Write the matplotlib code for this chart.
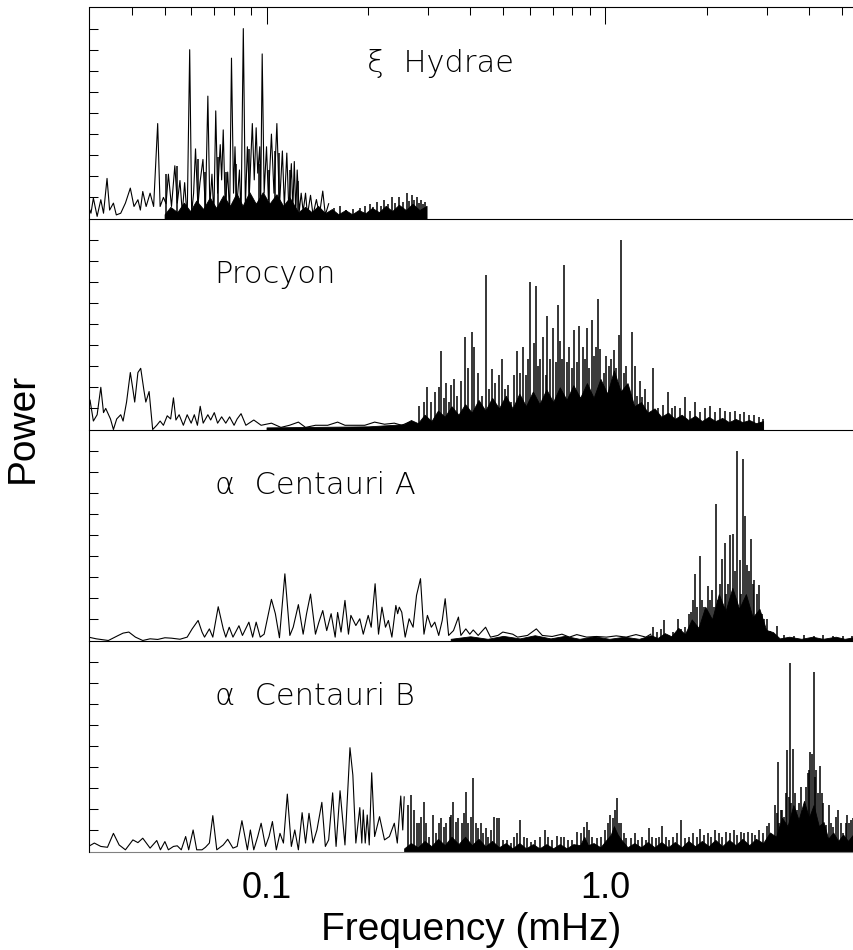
import numpy as np
import matplotlib.pyplot as plt
from matplotlib.ticker import FixedLocator, NullFormatter, NullLocator

# ── Data (frequency in mHz, power as fraction of panel) ──

stars = ["\u03be  Hydrae", "Procyon", "\u03b1  Centauri A", "\u03b1  Centauri B"]

# xi Hydrae: traced low-frequency curve
hya_f = [0.0298, 0.0303, 0.0308, 0.0316, 0.0324, 0.0330, 0.0338, 0.0344, 0.0353, 0.0360,
         0.0371, 0.0383, 0.0396, 0.0406, 0.0417, 0.0424, 0.0431, 0.0441, 0.0453, 0.0464,
         0.0477, 0.0485, 0.0496, 0.0505, 0.0513, 0.0524, 0.0536, 0.0545, 0.0555, 0.0564,
         0.0573, 0.0583, 0.0593, 0.0601, 0.0609, 0.0617, 0.0627, 0.0636, 0.0649, 0.0660,
         0.0671, 0.0680, 0.0690, 0.0699, 0.0708, 0.0717, 0.0730, 0.0737, 0.0745, 0.0755,
         0.0768, 0.0778, 0.0788, 0.0799, 0.0807, 0.0817, 0.0832, 0.0841, 0.0854, 0.0866,
         0.0878, 0.0890, 0.0908, 0.0920, 0.0932, 0.0942, 0.0955, 0.0961, 0.0971, 0.0984,
         0.1000, 0.1013, 0.1034, 0.1052, 0.1073, 0.1092, 0.1114, 0.1129, 0.1148, 0.1164,
         0.1184, 0.1196, 0.1208, 0.1220, 0.1232, 0.1249, 0.1266, 0.1283, 0.1304, 0.1321,
         0.1349, 0.1372, 0.1404, 0.1433, 0.1466, 0.1492, 0.1526]
hya_p = [0.057, 0.025, 0.097, 0.010, 0.089, 0.025, 0.190, 0.040, 0.073, 0.017,
         0.025, 0.073, 0.144, 0.057, 0.089, 0.040, 0.128, 0.057, 0.120, 0.057,
         0.450, 0.057, 0.100, 0.070, 0.210, 0.057, 0.250, 0.073, 0.180, 0.025,
         0.170, 0.000, 0.800, 0.025, 0.120, 0.330, 0.060, 0.170, 0.280, 0.040,
         0.580, 0.057, 0.210, 0.010, 0.510, 0.120, 0.350, 0.183, 0.420, 0.057,
         0.220, 0.010, 0.760, 0.120, 0.340, 0.057, 0.230, 0.000, 0.900, 0.057,
         0.340, 0.120, 0.450, 0.183, 0.430, 0.215, 0.340, 0.057, 0.780, 0.120,
         0.340, 0.089, 0.400, 0.120, 0.450, 0.057, 0.320, 0.057, 0.310, 0.040,
         0.260, 0.040, 0.270, 0.025, 0.230, 0.033, 0.120, 0.033, 0.120, 0.017,
         0.110, 0.017, 0.090, 0.017, 0.130, 0.017, 0.070]
hya_spike_f = [0.0505, 0.0545, 0.0628, 0.0660, 0.0720, 0.0760, 0.0815, 0.0890, 0.0950, 0.1015,
               0.1060, 0.1090, 0.1170, 0.1240,
               0.1580, 0.1649, 0.1720, 0.1800, 0.1886, 0.1950, 0.2017, 0.2070, 0.2121, 0.2180,
               0.2231, 0.2290, 0.2346, 0.2400, 0.2467, 0.2530, 0.2594, 0.2640, 0.2683, 0.2730,
               0.2774, 0.2820, 0.2869, 0.2900, 0.2937]
hya_spike_p = [0.210, 0.250, 0.280, 0.220, 0.290, 0.220, 0.260, 0.330, 0.260, 0.230,
               0.320, 0.310, 0.230, 0.180,
               0.050, 0.057, 0.040, 0.045, 0.050, 0.060, 0.070, 0.055, 0.080, 0.060,
               0.090, 0.070, 0.100, 0.075, 0.100, 0.080, 0.120, 0.085, 0.110, 0.090,
               0.100, 0.075, 0.090, 0.070, 0.080]
hya_floor_f = [0.0500, 0.0520, 0.0545, 0.0570, 0.0595, 0.0620, 0.0650, 0.0680, 0.0710, 0.0745,
               0.0780, 0.0815, 0.0850, 0.0890, 0.0930, 0.0975, 0.1020, 0.1070, 0.1120, 0.1170,
               0.1220, 0.124, 0.130, 0.136, 0.142, 0.149, 0.156, 0.163, 0.171, 0.179,
               0.187, 0.196, 0.205, 0.215, 0.225, 0.235, 0.246, 0.258, 0.270, 0.283, 0.297]
hya_floor_p = [0.020, 0.055, 0.030, 0.075, 0.035, 0.085, 0.045, 0.100, 0.050, 0.110,
               0.060, 0.120, 0.060, 0.125, 0.070, 0.125, 0.070, 0.115, 0.060, 0.100,
               0.050, 0.030, 0.055, 0.030, 0.060, 0.025, 0.045, 0.020, 0.040, 0.020,
               0.040, 0.025, 0.050, 0.030, 0.060, 0.035, 0.065, 0.040, 0.070, 0.040, 0.060]

# Procyon
pro_f = [0.0298, 0.0301, 0.0308, 0.0316, 0.0324, 0.0330, 0.0335, 0.0346, 0.0353, 0.0361,
         0.0371, 0.0377, 0.0386, 0.0396, 0.0403, 0.0408, 0.0417, 0.0425, 0.0434, 0.0440,
         0.0450, 0.0461, 0.0474, 0.0485, 0.0496, 0.0509, 0.0521, 0.0531, 0.0540, 0.0552,
         0.0568, 0.0583, 0.0599, 0.0612, 0.0625, 0.0637, 0.0650, 0.0671, 0.0684, 0.0701,
         0.0717, 0.0737, 0.0758, 0.0778, 0.0802, 0.0819, 0.0841, 0.0869, 0.0917, 0.0964,
         0.1034, 0.1103, 0.1169, 0.1242, 0.1304, 0.1395, 0.1516, 0.1622, 0.1705, 0.1812,
         0.1951, 0.2086, 0.2231, 0.2385, 0.2509, 0.2638]
pro_p = [0.140, 0.140, 0.040, 0.070, 0.200, 0.080, 0.100, 0.050, 0.000, 0.050,
         0.070, 0.040, 0.130, 0.270, 0.190, 0.130, 0.270, 0.290, 0.190, 0.130,
         0.180, 0.000, 0.020, 0.040, 0.020, 0.065, 0.050, 0.150, 0.045, 0.070,
         0.020, 0.070, 0.030, 0.070, 0.020, 0.110, 0.030, 0.070, 0.045, 0.080,
         0.030, 0.060, 0.030, 0.060, 0.020, 0.050, 0.075, 0.020, 0.045, 0.020,
         0.030, 0.010, 0.020, 0.035, 0.010, 0.020, 0.020, 0.035, 0.020, 0.020,
         0.020, 0.035, 0.025, 0.030, 0.020, 0.035]
pro_spike_f = [0.2821, 0.2918, 0.2987, 0.3068, 0.3141, 0.3226, 0.3281, 0.3337, 0.3393, 0.3451,
               0.3509, 0.3591, 0.3664, 0.3751, 0.3853, 0.3945, 0.4052, 0.4107, 0.4219, 0.4319,
               0.4437, 0.4543, 0.4635, 0.4745, 0.4874, 0.4956, 0.5073, 0.5159, 0.5287, 0.5372,
               0.5481, 0.5593, 0.5706, 0.5822, 0.5940, 0.6020, 0.6163, 0.6246, 0.6330, 0.6416,
               0.6570, 0.6670, 0.6748, 0.6885, 0.7024, 0.7143, 0.7264, 0.7337, 0.7461, 0.7587,
               0.7716, 0.7846, 0.7980, 0.8114, 0.8251, 0.8390, 0.8590, 0.8706, 0.8824, 0.8973,
               0.9125, 0.9279, 0.9373, 0.9532, 0.9692, 0.9922, 1.0090, 1.0294, 1.0434, 1.0611,
               1.0790, 1.0973, 1.1159, 1.1348, 1.1540, 1.1775, 1.2014, 1.2257, 1.2465, 1.2679,
               1.2893, 1.3109, 1.3421, 1.3881, 1.4354, 1.4844, 1.5351, 1.5768, 1.6140, 1.6690,
               1.7260, 1.7849, 1.8459, 1.9090, 1.9741, 2.0415, 2.1112, 2.1833, 2.2570, 2.3340,
               2.4136, 2.4960, 2.5813, 2.6690, 2.7600, 2.8542, 2.9324]
pro_spike_p = [0.110, 0.130, 0.200, 0.130, 0.180, 0.200, 0.370, 0.150, 0.220, 0.130,
               0.210, 0.240, 0.160, 0.230, 0.440, 0.290, 0.460, 0.390, 0.270, 0.160,
               0.730, 0.190, 0.285, 0.220, 0.260, 0.335, 0.190, 0.210, 0.130, 0.260,
               0.370, 0.270, 0.390, 0.260, 0.335, 0.700, 0.410, 0.680, 0.300, 0.335,
               0.440, 0.260, 0.540, 0.335, 0.480, 0.320, 0.590, 0.420, 0.335, 0.780,
               0.320, 0.390, 0.290, 0.470, 0.320, 0.490, 0.390, 0.335, 0.480, 0.290,
               0.520, 0.350, 0.390, 0.620, 0.380, 0.270, 0.350, 0.300, 0.335, 0.375,
               0.290, 0.450, 0.900, 0.270, 0.300, 0.190, 0.460, 0.300, 0.160, 0.230,
               0.155, 0.190, 0.130, 0.290, 0.100, 0.115, 0.180, 0.100, 0.110, 0.100,
               0.155, 0.090, 0.130, 0.085, 0.100, 0.110, 0.085, 0.100, 0.090, 0.085,
               0.090, 0.075, 0.085, 0.070, 0.070, 0.060, 0.050]
pro_floor_f = [0.100, 0.200, 0.255, 0.267, 0.280, 0.293, 0.307, 0.321, 0.336, 0.352,
               0.369, 0.386, 0.404, 0.423, 0.443, 0.464, 0.486, 0.509, 0.533, 0.558,
               0.584, 0.612, 0.640, 0.671, 0.702, 0.735, 0.770, 0.806, 0.844, 0.884,
               0.925, 0.969, 1.015, 1.062, 1.112, 1.165, 1.220, 1.277, 1.337, 1.400,
               1.466, 1.535, 1.607, 1.683, 1.762, 1.845, 1.932, 2.023, 2.118, 2.218,
               2.322, 2.431, 2.546, 2.666, 2.791, 2.930]
pro_floor_p = [0.010, 0.015, 0.025, 0.045, 0.030, 0.070, 0.040, 0.090, 0.060, 0.110,
               0.070, 0.120, 0.080, 0.140, 0.090, 0.150, 0.100, 0.160, 0.100, 0.170,
               0.110, 0.180, 0.120, 0.190, 0.130, 0.200, 0.140, 0.210, 0.150, 0.220,
               0.150, 0.240, 0.170, 0.280, 0.180, 0.220, 0.110, 0.130, 0.080, 0.100,
               0.060, 0.080, 0.050, 0.070, 0.045, 0.065, 0.040, 0.060, 0.040, 0.055,
               0.035, 0.050, 0.035, 0.045, 0.030, 0.040]

# alpha Centauri A
cena_f = [0.0298, 0.0314, 0.0341, 0.0365, 0.0377, 0.0392, 0.0410, 0.0431, 0.0453, 0.0477,
          0.0501, 0.0524, 0.0555, 0.0583, 0.0603, 0.0628, 0.0645, 0.0656, 0.0678, 0.0694,
          0.0720, 0.0745, 0.0758, 0.0776, 0.0796, 0.0829, 0.0849, 0.0887, 0.0910, 0.0932,
          0.0958, 0.0984, 0.1034, 0.1062, 0.1092, 0.1133, 0.1172, 0.1199, 0.1242, 0.1283,
          0.1313, 0.1349, 0.1395, 0.1428, 0.1466, 0.1506, 0.1552, 0.1595, 0.1622, 0.1660,
          0.1705, 0.1746, 0.1775, 0.1836, 0.1886, 0.1931, 0.1997, 0.2038, 0.2093, 0.2142,
          0.2193, 0.2246, 0.2291, 0.2346, 0.2410, 0.2440, 0.2467, 0.2509, 0.2568, 0.2638,
          0.2710, 0.2774, 0.2850, 0.2918, 0.2987, 0.3068, 0.3141, 0.3226, 0.3304, 0.3371,
          0.3451, 0.3567, 0.3689, 0.3751, 0.3879, 0.3985, 0.4080, 0.4219, 0.4437, 0.4588,
          0.4825, 0.4989, 0.5335, 0.5514, 0.5900, 0.6267, 0.6525, 0.6977, 0.7461, 0.7846,
          0.8251, 0.8824, 0.9437, 1.0090, 1.0790, 1.1540, 1.2341, 1.3198, 1.3650]
cena_p = [0.016, 0.008, 0.000, 0.024, 0.035, 0.040, 0.016, 0.000, 0.008, 0.005,
          0.013, 0.011, 0.006, 0.016, 0.055, 0.095, 0.040, 0.016, 0.055, 0.016,
          0.160, 0.055, 0.016, 0.063, 0.016, 0.070, 0.024, 0.087, 0.016, 0.087,
          0.016, 0.030, 0.195, 0.127, 0.013, 0.316, 0.024, 0.063, 0.170, 0.030,
          0.127, 0.220, 0.030, 0.087, 0.142, 0.047, 0.127, 0.016, 0.133, 0.040,
          0.190, 0.030, 0.119, 0.071, 0.103, 0.030, 0.119, 0.063, 0.269, 0.030,
          0.158, 0.063, 0.095, 0.016, 0.166, 0.127, 0.158, 0.134, 0.016, 0.103,
          0.063, 0.214, 0.293, 0.030, 0.119, 0.063, 0.087, 0.024, 0.095, 0.198,
          0.024, 0.047, 0.111, 0.024, 0.055, 0.030, 0.050, 0.024, 0.063, 0.016,
          0.024, 0.040, 0.030, 0.016, 0.024, 0.055, 0.024, 0.019, 0.030, 0.016,
          0.028, 0.016, 0.019, 0.016, 0.022, 0.016, 0.028, 0.016, 0.030]
cena_spike_f = [1.3881, 1.4211, 1.4597, 1.4947, 1.5351, 1.5875, 1.6413, 1.6803, 1.7260, 1.7733,
                1.7972, 1.8213, 1.8459, 1.8713, 1.9090, 1.9347, 1.9609, 2.0075, 2.0415, 2.0760,
                2.1040, 2.1327, 2.1614, 2.1833, 2.2201, 2.2570, 2.2799, 2.3107, 2.3340, 2.3814,
                2.4136, 2.4545, 2.4960, 2.5216, 2.5470, 2.5899, 2.6337, 2.6690, 2.6960, 2.7326,
                2.7600, 2.8067, 2.8542, 2.9025, 2.9516, 3.0016, 3.0728, 3.1348, 3.2094, 3.3750,
                3.6095, 3.8603, 4.1283, 4.4140, 4.7203, 5.0483, 5.3620]
cena_spike_p = [0.063, 0.040, 0.055, 0.095, 0.024, 0.040, 0.103, 0.055, 0.063, 0.127,
                0.134, 0.190, 0.316, 0.158, 0.400, 0.190, 0.158, 0.260, 0.190, 0.237,
                0.158, 0.646, 0.190, 0.270, 0.388, 0.460, 0.220, 0.270, 0.500, 0.506,
                0.330, 0.900, 0.380, 0.220, 0.862, 0.589, 0.356, 0.330, 0.483, 0.270,
                0.285, 0.220, 0.261, 0.127, 0.103, 0.103, 0.047, 0.030, 0.071, 0.024,
                0.019, 0.024, 0.019, 0.024, 0.019, 0.022, 0.019]
cena_floor_f = [0.350, 0.400, 0.450, 0.500, 0.560, 0.620, 0.690, 0.760, 0.840, 0.930,
                1.030, 1.140, 1.260, 1.365, 1.430, 1.500, 1.570, 1.645, 1.722, 1.803,
                1.888, 1.977, 2.070, 2.168, 2.270, 2.377, 2.489, 2.606, 2.729, 2.857,
                2.992, 3.133, 3.280, 3.500, 3.800, 4.100, 4.400, 4.800, 5.100, 5.400]
cena_floor_p = [0.008, 0.020, 0.008, 0.022, 0.010, 0.025, 0.010, 0.022, 0.008, 0.020,
                0.008, 0.018, 0.008, 0.025, 0.012, 0.035, 0.020, 0.060, 0.030, 0.100,
                0.060, 0.160, 0.100, 0.220, 0.140, 0.250, 0.150, 0.220, 0.110, 0.150,
                0.050, 0.040, 0.010, 0.018, 0.008, 0.018, 0.008, 0.018, 0.008, 0.015]

# alpha Centauri B
cenb_f = [0.0298, 0.0310, 0.0324, 0.0339, 0.0353, 0.0367, 0.0383, 0.0403, 0.0417, 0.0431,
          0.0453, 0.0474, 0.0486, 0.0501, 0.0513, 0.0531, 0.0545, 0.0560, 0.0577, 0.0589,
          0.0607, 0.0622, 0.0645, 0.0660, 0.0678, 0.0694, 0.0713, 0.0745, 0.0768, 0.0796,
          0.0819, 0.0846, 0.0878, 0.0896, 0.0917, 0.0942, 0.0964, 0.0993, 0.1017, 0.1041,
          0.1069, 0.1096, 0.1122, 0.1152, 0.1184, 0.1212, 0.1242, 0.1274, 0.1304, 0.1335,
          0.1372, 0.1409, 0.1457, 0.1492, 0.1526, 0.1568, 0.1605, 0.1649, 0.1705, 0.1764,
          0.1799, 0.1836, 0.1886, 0.1912, 0.1931, 0.1957, 0.1984, 0.2011, 0.2045, 0.2086,
          0.2157, 0.2231, 0.2307, 0.2385, 0.2434, 0.2492, 0.2526, 0.2551]
cenb_p = [0.024, 0.040, 0.024, 0.020, 0.086, 0.031, 0.008, 0.055, 0.042, 0.063,
          0.016, 0.052, 0.008, 0.047, 0.008, 0.024, 0.027, 0.008, 0.071, 0.008,
          0.102, 0.008, 0.008, 0.020, 0.040, 0.170, 0.008, 0.031, 0.058, 0.016,
          0.024, 0.146, 0.008, 0.102, 0.008, 0.071, 0.134, 0.024, 0.071, 0.142,
          0.008, 0.086, 0.040, 0.272, 0.024, 0.102, 0.008, 0.184, 0.040, 0.181,
          0.040, 0.102, 0.233, 0.024, 0.055, 0.278, 0.024, 0.288, 0.031, 0.492,
          0.362, 0.040, 0.208, 0.040, 0.197, 0.040, 0.173, 0.031, 0.373, 0.071,
          0.165, 0.055, 0.071, 0.134, 0.040, 0.263, 0.102, 0.259]
cenb_spike_f = [0.2612, 0.2665, 0.2728, 0.2774, 0.2821, 0.2869, 0.2918, 0.2967, 0.3017, 0.3099,
                0.3173, 0.3226, 0.3281, 0.3337, 0.3393, 0.3473, 0.3509, 0.3567, 0.3627, 0.3689,
                0.3776, 0.3829, 0.3879, 0.3945, 0.4025, 0.4080, 0.4149, 0.4219, 0.4290, 0.4363,
                0.4437, 0.4512, 0.4604, 0.4698, 0.4794, 0.4874, 0.4989, 0.5125, 0.5287, 0.5372,
                0.5481, 0.5611, 0.5748, 0.5900, 0.6061, 0.6204, 0.6416, 0.6635, 0.6789, 0.6977,
                0.7215, 0.7410, 0.7587, 0.7793, 0.7980, 0.8251, 0.8475, 0.8677, 0.8824, 0.8973,
                0.9125, 0.9437, 0.9757, 1.0022, 1.0192, 1.0364, 1.0539, 1.0684, 1.0864, 1.1014,
                1.1159, 1.1348, 1.1540, 1.1934, 1.2257, 1.2549, 1.2893, 1.3198, 1.3511, 1.3788,
                1.4116, 1.4476, 1.4746, 1.5096, 1.5452, 1.5875, 1.6303, 1.6803, 1.7260, 1.7733,
                1.8149, 1.8645, 1.9090, 1.9609, 2.0075, 2.0554, 2.1112, 2.1686, 2.2201, 2.2721,
                2.3340, 2.3974, 2.4545, 2.5132, 2.5813, 2.6511, 2.7141, 2.7787, 2.8542, 2.9324,
                3.0016, 3.0530, 3.1039, 3.1771, 3.2094, 3.2418, 3.2748, 3.3078, 3.3412, 3.3750,
                3.4204, 3.4558, 3.4906, 3.5142, 3.5495, 3.5852, 3.6214, 3.6458, 3.6826, 3.7330,
                3.7961, 3.8474, 3.8864, 3.9256, 3.9652, 4.0051, 4.0328, 4.0876, 4.1283, 4.1700,
                4.2121, 4.2689, 4.3124, 4.3709, 4.4140, 4.5036, 4.5954, 4.6577, 4.7203, 4.8171,
                4.8814, 4.9639, 5.0483, 5.1340, 5.1850, 5.2550, 5.3260, 5.3978]
cenb_spike_p = [0.220, 0.266, 0.197, 0.134, 0.134, 0.165, 0.233, 0.134, 0.071, 0.173,
                0.086, 0.134, 0.157, 0.118, 0.134, 0.165, 0.173, 0.236, 0.142, 0.157,
                0.134, 0.181, 0.283, 0.134, 0.165, 0.346, 0.134, 0.110, 0.134, 0.086,
                0.110, 0.071, 0.102, 0.165, 0.157, 0.157, 0.055, 0.055, 0.040, 0.071,
                0.086, 0.149, 0.071, 0.063, 0.047, 0.055, 0.071, 0.102, 0.071, 0.055,
                0.074, 0.071, 0.071, 0.055, 0.055, 0.094, 0.086, 0.118, 0.142, 0.102,
                0.071, 0.063, 0.071, 0.102, 0.134, 0.173, 0.157, 0.197, 0.255, 0.134,
                0.134, 0.086, 0.063, 0.063, 0.086, 0.055, 0.071, 0.055, 0.110, 0.071,
                0.063, 0.071, 0.121, 0.071, 0.055, 0.071, 0.086, 0.149, 0.063, 0.071,
                0.086, 0.071, 0.105, 0.079, 0.086, 0.071, 0.102, 0.086, 0.071, 0.094,
                0.086, 0.102, 0.079, 0.094, 0.086, 0.094, 0.086, 0.079, 0.102, 0.086,
                0.121, 0.134, 0.071, 0.220, 0.181, 0.425, 0.134, 0.197, 0.197, 0.165,
                0.275, 0.480, 0.260, 0.893, 0.228, 0.487, 0.197, 0.275, 0.197, 0.228,
                0.307, 0.197, 0.142, 0.307, 0.370, 0.385, 0.472, 0.464, 0.849, 0.354,
                0.385, 0.275, 0.406, 0.275, 0.228, 0.126, 0.220, 0.134, 0.118, 0.165,
                0.197, 0.134, 0.086, 0.134, 0.173, 0.134, 0.149, 0.157]
cenb_floor_f = [0.255, 0.267, 0.280, 0.293, 0.307, 0.321, 0.336, 0.352, 0.369, 0.386,
                0.404, 0.423, 0.443, 0.464, 0.486, 0.509, 0.533, 0.558, 0.584, 0.612,
                0.640, 0.671, 0.702, 0.735, 0.770, 0.806, 0.844, 0.868, 0.890, 0.925,
                0.969, 1.015, 1.040, 1.062, 1.090, 1.112, 1.165, 1.220, 1.277, 1.337,
                1.400, 1.466, 1.535, 1.607, 1.683, 1.762, 1.845, 1.932, 2.023, 2.118,
                2.218, 2.322, 2.431, 2.546, 2.666, 2.791, 2.930, 3.070, 3.200, 3.330,
                3.460, 3.600, 3.730, 3.870, 4.000, 4.130, 4.280, 4.420, 4.560, 4.720,
                4.880, 5.050, 5.220, 5.400]
cenb_floor_p = [0.015, 0.040, 0.020, 0.050, 0.025, 0.060, 0.030, 0.070, 0.035, 0.070,
                0.030, 0.060, 0.025, 0.050, 0.020, 0.040, 0.015, 0.040, 0.015, 0.035,
                0.015, 0.035, 0.015, 0.035, 0.015, 0.035, 0.030, 0.070, 0.030, 0.040,
                0.020, 0.060, 0.080, 0.120, 0.080, 0.060, 0.020, 0.040, 0.020, 0.045,
                0.020, 0.045, 0.020, 0.045, 0.020, 0.050, 0.025, 0.050, 0.025, 0.055,
                0.025, 0.055, 0.030, 0.060, 0.030, 0.060, 0.040, 0.090, 0.070, 0.160,
                0.120, 0.220, 0.150, 0.240, 0.160, 0.220, 0.120, 0.140, 0.060, 0.090,
                0.050, 0.080, 0.050, 0.080]

panels = [
    (hya_f, hya_p, hya_spike_f, hya_spike_p, hya_floor_f, hya_floor_p),
    (pro_f, pro_p, pro_spike_f, pro_spike_p, pro_floor_f, pro_floor_p),
    (cena_f, cena_p, cena_spike_f, cena_spike_p, cena_floor_f, cena_floor_p),
    (cenb_f, cenb_p, cenb_spike_f, cenb_spike_p, cenb_floor_f, cenb_floor_p),
]
label_x = [0.364, 0.164, 0.164, 0.164]

# ── Layout (pixel geometry of the 854x950 reference) ──────────────────────────
W, H = 854, 950
left, right = 89.5, 853
top, ph = 7.5, 211

fig = plt.figure(figsize=(W / 100, H / 100), dpi=100)

axes = []
for i, (lf, lp, sf, sp, ff, fp) in enumerate(panels):
    y0 = top + ph * (i + 1)
    ax = fig.add_axes([left / W, 1 - y0 / H, (right - left) / W, ph / H])
    ax.set_facecolor("none")
    axes.append(ax)

    ax.fill_between(ff, 0, fp, color="black", linewidth=0.6)
    ax.plot(lf, lp, color="black", linewidth=0.8)
    ax.vlines(sf, 0, sp, color="black", linewidth=1.1)

    ax.set_xscale("log")
    ax.set_xlim(0.03, 5.4)
    ax.set_ylim(0, 1)

    ax.spines[["right"]].set_visible(False)
    if i > 0:
        ax.spines["top"].set_visible(False)
    for s in ax.spines.values():
        s.set_linewidth(0.8)
        s.set_color("black")
        s.set_zorder(5)

    ax.yaxis.set_major_locator(FixedLocator(np.arange(0.1, 0.95, 0.1)))
    ax.yaxis.set_minor_locator(NullLocator())
    ax.tick_params(axis="y", which="major", direction="in", length=6.5,
                   width=0.75, labelleft=False)

    ax.xaxis.set_major_locator(FixedLocator([0.1, 1.0]))
    ax.xaxis.set_minor_locator(FixedLocator(
        [0.04, 0.05, 0.06, 0.07, 0.08, 0.09, 0.2, 0.3, 0.4, 0.5, 0.6, 0.7, 0.8, 0.9,
         2, 3, 4, 5]))
    ax.xaxis.set_minor_formatter(NullFormatter())
    ax.tick_params(axis="x", which="both", bottom=False, top=(i == 0),
                   labelbottom=(i == 3), direction="in", width=0.75)
    ax.tick_params(axis="x", which="major", length=12.5)
    ax.tick_params(axis="x", which="minor", length=6)

    ax.text(label_x[i], 0.695, stars[i], transform=ax.transAxes,
            fontsize=22, fontweight="light", family=["DejaVu Sans"],
            ha="left", va="baseline")

bax = axes[-1]
bax.set_xticklabels(["0.1", "1.0"])
bax.tick_params(axis="x", which="major", labelsize=26, pad=14)
for lab in bax.get_xticklabels():
    lab.set_family(["Liberation Sans", "DejaVu Sans"])
bax.spines["bottom"].set_color("#808080")
bax.set_xlabel("Frequency (mHz)", fontsize=28, family=["Liberation Sans", "DejaVu Sans"],
               va="top")
bax.xaxis.set_label_coords(0.5, -60 / ph)

fig.text(23 / W, 1 - 428 / H, "Power", rotation=90, fontsize=28,
         family=["Liberation Sans", "DejaVu Sans"], ha="center", va="center")

fig.savefig("out.png", dpi=100)
